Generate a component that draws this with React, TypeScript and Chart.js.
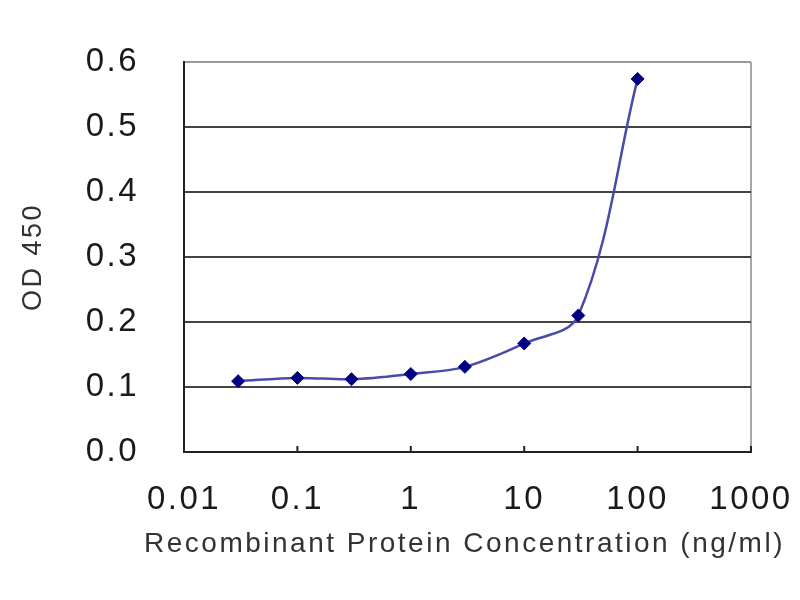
import { useEffect, useRef } from 'react';
import { Chart, registerables } from 'chart.js';

Chart.register(...registerables);

// ---- data ----
const concentrations = [0.03, 0.1, 0.3, 1, 3, 10, 30, 100];
const od450 = [0.109, 0.114, 0.112, 0.12, 0.131, 0.167, 0.21, 0.574];

const xTickValues = [0.01, 0.1, 1, 10, 100, 1000];
const xTickLabels = ['0.01', '0.1', '1', '10', '100', '1000'];
const yTickValues = [0, 0.1, 0.2, 0.3, 0.4, 0.5, 0.6];
const yTickLabels = ['0.0', '0.1', '0.2', '0.3', '0.4', '0.5', '0.6'];

const xTitle = 'Recombinant Protein Concentration (ng/ml)';
const yTitle = 'OD 450';

const FONT = "'Liberation Sans', Arial, sans-serif";

const letterSpacingPlugin = {
  id: 'letterSpacing',
  beforeDraw(chart: any) {
    chart.ctx.letterSpacing = '2.5px';
  },
  afterDraw(chart: any) {
    chart.ctx.letterSpacing = '0px';
  },
};

// x-axis title drawn without Chart.js's maxWidth squeeze (the original title is wider than the plot)
const xTitlePlugin = {
  id: 'xTitleWide',
  afterDraw(chart: any) {
    const { ctx, chartArea } = chart;
    const xs = chart.scales.x;
    ctx.save();
    ctx.letterSpacing = '2.5px';
    ctx.font = `28px ${FONT}`;
    ctx.fillStyle = '#333';
    ctx.textAlign = 'center';
    ctx.textBaseline = 'middle';
    ctx.fillText(xTitle, (chartArea.left + chartArea.right) / 2 - 3, xs.bottom - 56);
    ctx.restore();
  },
};

const innerTicksPlugin = {
  id: 'innerTicks',
  beforeDatasetsDraw(chart: any) {
    const xs = chart.scales.x;
    const { ctx, chartArea } = chart;
    ctx.save();
    ctx.strokeStyle = '#222';
    ctx.lineWidth = 2;
    xs.ticks.forEach((t: any) => {
      const px = xs.getPixelForValue(t.value);
      ctx.beginPath();
      ctx.moveTo(px, chartArea.bottom);
      ctx.lineTo(px, chartArea.bottom - 6);
      ctx.stroke();
    });
    ctx.restore();
  },
};

export default function App() {
  const canvasRef = useRef<HTMLCanvasElement | null>(null);

  useEffect(() => {
    document.body.style.margin = '0';
    const canvas = canvasRef.current;
    if (!canvas) return;
    const chart = new Chart(canvas, {
      type: 'line',
      data: {
        datasets: [
          {
            data: concentrations.map((c, i) => ({ x: c, y: od450[i] })),
            borderColor: '#4a4aa8',
            borderWidth: 2.5,
            tension: 0.35,
            pointStyle: 'rectRot',
            pointRadius: 6.5,
            pointBackgroundColor: '#000080',
            pointBorderColor: '#000080',
            pointBorderWidth: 1,
            fill: false,
          },
        ],
      },
      options: {
        animation: false,
        responsive: true,
        maintainAspectRatio: false,
        layout: { padding: { top: 62, right: 49, left: 0, bottom: 0 } },
        plugins: {
          legend: { display: false },
          tooltip: { enabled: false },
        },
        scales: {
          x: {
            type: 'logarithmic',
            min: 0.01,
            max: 1000,
            afterBuildTicks: (s: any) => {
              s.ticks = xTickValues.map((v) => ({ value: v }));
            },
            afterFit: (s: any) => {
              s.height = 148;
              s.paddingLeft = 0;
              s.paddingRight = 0;
            },
            ticks: {
              autoSkip: false,
              maxRotation: 0,
              padding: 28,
              color: '#1a1a1a',
              font: { family: FONT, size: 33 },
              callback: (_v: any, i: number) => xTickLabels[i],
            },
            grid: {
              drawTicks: false,
              lineWidth: 2,
              color: (c: any) =>
                c.tick && c.tick.value === 1000 ? '#a8a8a8' : 'rgba(0,0,0,0)',
            },
            border: { color: '#222', width: 2 },
            title: { display: false },
          },
          y: {
            min: 0,
            max: 0.6,
            afterBuildTicks: (s: any) => {
              s.ticks = yTickValues.map((v) => ({ value: v }));
            },
            afterFit: (s: any) => {
              s.width = 184;
              s.paddingTop = 0;
              s.paddingBottom = 0;
            },
            ticks: {
              padding: 45,
              color: '#1a1a1a',
              font: { family: FONT, size: 33 },
              callback: (_v: any, i: number) => yTickLabels[i],
            },
            grid: {
              drawTicks: false,
              lineWidth: 2,
              color: (c: any) => {
                const v = c.tick ? c.tick.value : -1;
                if (Math.abs(v - 0.6) < 1e-6) return '#9a9a9a';
                if (Math.abs(v) < 1e-6) return 'rgba(0,0,0,0)';
                return '#444';
              },
            },
            border: { color: '#222', width: 2 },
            title: {
              display: true,
              text: yTitle,
              color: '#333',
              font: { family: FONT, size: 27 },
              padding: { top: 17, bottom: 0 },
            },
          },
        },
      },
      plugins: [letterSpacingPlugin, innerTicksPlugin, xTitlePlugin],
    } as any);
    return () => chart.destroy();
  }, []);

  return (
    <div style={{ width: 800, height: 600, position: 'relative', background: '#fff' }}>
      <canvas ref={canvasRef} />
    </div>
  );
}
